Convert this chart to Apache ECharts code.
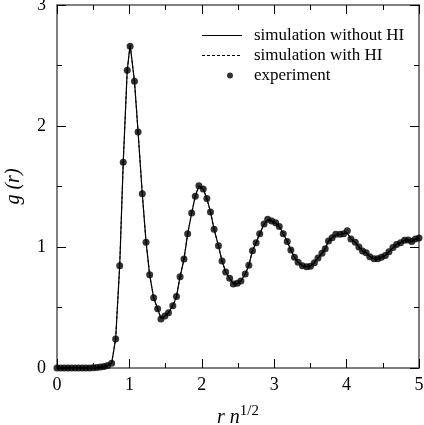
<!DOCTYPE html>
<html>
<head>
<meta charset="utf-8">
<script src="https://cdn.jsdelivr.net/npm/echarts@6/dist/echarts.min.js"></script>
<style>html,body{margin:0;padding:0;background:#fff}#c{width:424px;height:425px}</style>
</head>
<body>
<div id="c"></div>
<script>
// r n^{1/2} positions of the experimental points
var rExp = [0.00,0.05,0.10,0.15,0.20,0.25,0.30,0.35,0.40,0.45,0.50,0.55,0.60,0.65,0.70,
  0.755,0.81,0.866,0.915,0.97,1.01,1.07,1.12,1.178,1.23,1.28,1.335,1.39,1.436,1.49,
  1.54,1.60,1.65,1.70,1.754,1.805,1.86,1.91,1.96,2.02,2.07,2.12,2.17,2.23,2.28,
  2.33,2.385,2.435,2.49,2.54,2.60,2.65,2.70,2.75,2.80,2.86,2.91,2.965,3.02,3.07,
  3.125,3.18,3.23,3.28,3.33,3.39,3.45,3.50,3.555,3.605,3.66,3.705,3.75,3.80,3.85,
  3.91,3.96,4.01,4.06,4.12,4.17,4.22,4.27,4.32,4.38,4.43,4.48,4.535,4.585,4.64,
  4.69,4.745,4.80,4.85,4.90,4.95,5.00];
// experimental g(r)
var gExp = [0,0,0,0,0,0,0,0,0,0,0.002,0.004,0.008,0.012,0.02,
  0.04,0.24,0.845,1.70,2.46,2.66,2.37,1.95,1.44,1.04,0.77,0.58,0.49,0.405,0.43,
  0.457,0.515,0.59,0.755,0.90,1.11,1.28,1.42,1.507,1.48,1.40,1.29,1.146,1.01,0.884,
  0.793,0.741,0.694,0.70,0.72,0.777,0.85,0.97,1.035,1.11,1.19,1.23,1.215,1.20,1.17,
  1.11,1.045,0.975,0.915,0.874,0.845,0.837,0.84,0.87,0.91,0.948,0.986,1.05,1.077,1.105,
  1.105,1.11,1.135,1.066,1.04,1.00,0.967,0.953,0.92,0.903,0.903,0.915,0.93,0.96,0.995,
  1.02,1.035,1.055,1.058,1.045,1.066,1.075];
// simulation without HI
var gSimNoHI = [0,0,0,0,0,0,0,0,0,0,0.002,0.004,0.008,0.012,0.02,
  0.04,0.24,0.845,1.70,2.46,2.67,2.37,1.95,1.44,1.04,0.77,0.58,0.49,0.41,0.43,
  0.457,0.515,0.59,0.755,0.90,1.11,1.28,1.42,1.505,1.48,1.40,1.29,1.146,1.01,0.884,
  0.793,0.741,0.696,0.70,0.72,0.777,0.85,0.97,1.035,1.11,1.19,1.225,1.215,1.20,1.17,
  1.11,1.045,0.975,0.915,0.874,0.845,0.837,0.84,0.87,0.91,0.948,0.986,1.05,1.077,1.10,
  1.105,1.11,1.115,1.066,1.04,1.00,0.967,0.953,0.92,0.903,0.903,0.915,0.93,0.96,0.995,
  1.02,1.035,1.055,1.058,1.045,1.066,1.075];
// simulation with HI
var gSimHI = [0,0,0,0,0,0,0,0,0,0,0.002,0.004,0.008,0.012,0.02,
  0.04,0.24,0.845,1.70,2.46,2.67,2.37,1.95,1.44,1.04,0.77,0.58,0.49,0.41,0.43,
  0.457,0.515,0.59,0.755,0.90,1.11,1.28,1.42,1.505,1.48,1.40,1.29,1.146,1.01,0.884,
  0.793,0.741,0.696,0.70,0.72,0.777,0.85,0.97,1.035,1.11,1.19,1.225,1.215,1.20,1.17,
  1.11,1.045,0.975,0.915,0.874,0.845,0.837,0.84,0.87,0.91,0.948,0.986,1.05,1.077,1.10,
  1.105,1.11,1.115,1.066,1.04,1.00,0.967,0.953,0.92,0.903,0.903,0.915,0.93,0.96,0.995,
  1.02,1.035,1.055,1.058,1.045,1.066,1.075];
var xTicks = ['0','1','2','3','4','5'];
var yTicks = ['0','1','2','3'];

function pairs(xs, ys){ return xs.map(function(x,i){ return [x, ys[i]]; }); }

var FONT = 'Liberation Serif';
var axisLineStyle = {color:'#555', width:1.5};
function xAx(pos, labels){
  return {
    type:'value', min:0, max:5, interval:1, position:pos,
    axisLine:{show:true, onZero:false, lineStyle:axisLineStyle},
    axisTick:{show:true, inside:true, length:9, lineStyle:{color:'#000', width:1}},
    minorTick:{show:true, splitNumber:2, length:5, lineStyle:{color:'#000', width:1}},
    splitLine:{show:false}, minorSplitLine:{show:false},
    axisLabel:{show:labels, color:'#000', fontFamily:FONT, fontSize:18, margin:8,
      formatter:function(v){ return xTicks[Math.round(v)]; }}
  };
}
function yAx(pos, labels){
  return {
    type:'value', min:0, max:3, interval:1, position:pos,
    axisLine:{show:true, onZero:false, lineStyle:axisLineStyle},
    axisTick:{show:true, inside:true, length:9, lineStyle:{color:'#000', width:1}},
    minorTick:{show:true, splitNumber:2, length:5, lineStyle:{color:'#000', width:1}},
    splitLine:{show:false}, minorSplitLine:{show:false},
    axisLabel:{show:labels, color:'#000', fontFamily:FONT, fontSize:18, margin:11,
      formatter:function(v){ return yTicks[Math.round(v)]; }}
  };
}
var xb = xAx('bottom', true);
xb.name = '{i|r n}{s|1/2}';
xb.nameLocation = 'middle';
xb.nameGap = 36;
xb.nameTextStyle = {fontFamily:FONT, color:'#000', rich:{
  i:{fontFamily:FONT, fontStyle:'italic', fontSize:20, color:'#000', verticalAlign:'bottom', lineHeight:24},
  s:{fontFamily:FONT, fontSize:15, color:'#000', verticalAlign:'top', lineHeight:24}
}};
var yl = yAx('left', true);
yl.name = 'g (r)';
yl.nameLocation = 'middle';
yl.nameGap = 33;
yl.nameTextStyle = {fontFamily:FONT, fontStyle:'italic', fontSize:20, color:'#000'};

// legend icon shapes (tiny corner specks keep the icon box 40x7)
var iconSolid = 'path://M0,0h0.05v0.05h-0.05z M39.95,6.95h0.05v0.05h-0.05z M0,3h40v1h-40z';
var iconDash = 'path://M0,0h0.05v0.05h-0.05z M39.95,6.95h0.05v0.05h-0.05z ' +
  'M0,3h3v1h-3z M5,3h3v1h-3z M10,3h3v1h-3z M15,3h3v1h-3z M20,3h3v1h-3z M25,3h3v1h-3z M30,3h3v1h-3z M35,3h3v1h-3z';
var iconDot = 'path://M0,0h0.05v0.05h-0.05z M39.95,6.95h0.05v0.05h-0.05z ' +
  'M25,3.5a3,3 0 1,0 6,0a3,3 0 1,0 -6,0z';

var chart = echarts.init(document.getElementById('c'), null, {renderer:'canvas'});
chart.setOption({
  animation:false,
  backgroundColor:'#fff',
  grid:{left:57, right:5, top:5, bottom:57, containLabel:false, outerBoundsMode:'none'},
  legend:{
    orient:'vertical', left:197, top:22, itemWidth:40, itemHeight:7, itemGap:3,
    textStyle:{fontFamily:FONT, fontSize:17, color:'#000', padding:[0,0,0,7]},
    data:[
      {name:'simulation without HI', icon:iconSolid, itemStyle:{color:'#000'}},
      {name:'simulation with HI', icon:iconDash, itemStyle:{color:'#000'}},
      {name:'experiment', icon:iconDot, itemStyle:{color:'#000'}}
    ]
  },
  xAxis:[xb, xAx('top', false)],
  yAxis:[yl, yAx('right', false)],
  series:[
    {name:'simulation without HI', type:'line', data:pairs(rExp, gSimNoHI), showSymbol:false, symbol:'none',
      lineStyle:{color:'#000', width:1.2, type:'solid'}, itemStyle:{color:'#000'}, z:2},
    {name:'simulation with HI', type:'line', data:pairs(rExp, gSimHI), showSymbol:false, symbol:'none',
      lineStyle:{color:'#000', width:1, type:[3,2]}, itemStyle:{color:'#000'}, z:3},
    {name:'experiment', type:'scatter', data:pairs(rExp, gExp), symbol:'circle', symbolSize:7,
      itemStyle:{color:'#000'}, z:4}
  ]
});
</script>
</body>
</html>
